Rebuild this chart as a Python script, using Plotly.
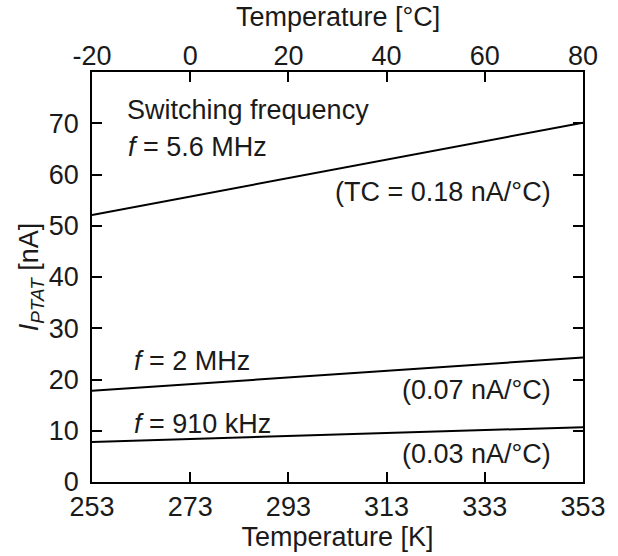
import plotly.graph_objects as go

# Data
temp_K = [253, 353]
i_56MHz = [52.1, 70.1]
i_2MHz = [17.8, 24.3]
i_910kHz = [7.8, 10.7]

kelvin_ticks = [253, 273, 293, 313, 333, 353]
celsius_ticks = [-20, 0, 20, 40, 60, 80]
celsius_labels = ["-20", "0", "20", "40", "60", "80"]
y_ticks = [0, 10, 20, 30, 40, 50, 60, 70]

labels = [
    ("Switching frequency", 259.7, 72.6, "left"),
    ("<i>f</i> = 5.6 MHz", 259.9, 65.3, "left"),
    ("(TC = 0.18 nA/°C)", 346.9, 56.6, "right"),
    ("<i>f</i> = 2 MHz", 261.1, 23.7, "left"),
    ("(0.07 nA/°C)", 346.9, 17.9, "right"),
    ("<i>f</i> = 910 kHz", 261.1, 11.3, "left"),
    ("(0.03 nA/°C)", 346.9, 5.4, "right"),
]

FONT = "Liberation Sans, Arial, sans-serif"
TXT = "#1a1a1a"
FS = 27

fig = go.Figure()
for ys in (i_56MHz, i_2MHz, i_910kHz):
    fig.add_trace(go.Scatter(x=temp_K, y=ys, mode="lines",
                             line=dict(color="black", width=2),
                             showlegend=False, hoverinfo="skip"))

# invisible trace to carry the top Celsius axis
fig.add_trace(go.Scatter(x=[celsius_ticks[0], celsius_ticks[-1]], y=[1, 1],
                         xaxis="x2", mode="lines", line=dict(width=0),
                         showlegend=False, hoverinfo="skip"))

for text, x, y, align in labels:
    fig.add_annotation(x=x, y=y, xref="x", yref="y", text=text, showarrow=False,
                       xanchor=align, yanchor="middle",
                       font=dict(family=FONT, size=FS, color=TXT))

# top axis title
fig.add_annotation(x=0.5, y=1.134, xref="paper", yref="paper",
                   text="Temperature [°C]", showarrow=False,
                   xanchor="center", yanchor="middle",
                   font=dict(family=FONT, size=FS, color=TXT))

fig.update_layout(
    width=618, height=556,
    margin=dict(l=92, r=35, t=72, b=74, autoexpand=False),
    paper_bgcolor="white", plot_bgcolor="white",
    font=dict(family=FONT, size=FS, color=TXT),
    xaxis=dict(range=[253, 353], tickvals=kelvin_ticks, automargin=False,
               ticks="inside", ticklen=10, tickwidth=1.5, tickcolor="black",
               showline=True, linecolor="black", linewidth=1.5, mirror="ticks",
               showgrid=False, zeroline=False, ticklabelstandoff=0,
               title=dict(text="Temperature [K]", standoff=2,
                          font=dict(family=FONT, size=FS, color=TXT)),
               tickfont=dict(family=FONT, size=FS, color=TXT)),
    xaxis2=dict(range=[-20, 80], tickvals=celsius_ticks, ticktext=celsius_labels,
                overlaying="x", side="top", ticks="", showline=False,
                showgrid=False, zeroline=False, automargin=False,
                ticklabelstandoff=1,
                tickfont=dict(family=FONT, size=FS, color=TXT)),
    yaxis=dict(range=[0, 80], tickvals=y_ticks, automargin=False,
               ticks="inside", ticklen=10, tickwidth=1.5, tickcolor="black",
               showline=True, linecolor="black", linewidth=1.5, mirror="ticks",
               showgrid=False, zeroline=False, ticklabelstandoff=6,
               title=dict(text="<i>I</i><sub><i>PTAT</i></sub> [nA]", standoff=2,
                          font=dict(family=FONT, size=FS, color=TXT)),
               tickfont=dict(family=FONT, size=FS, color=TXT)),
)

fig.write_html("out.html", config={"displayModeBar": False},
               post_script="document.body.style.margin='0';"
                           "document.body.style.padding='0';")
